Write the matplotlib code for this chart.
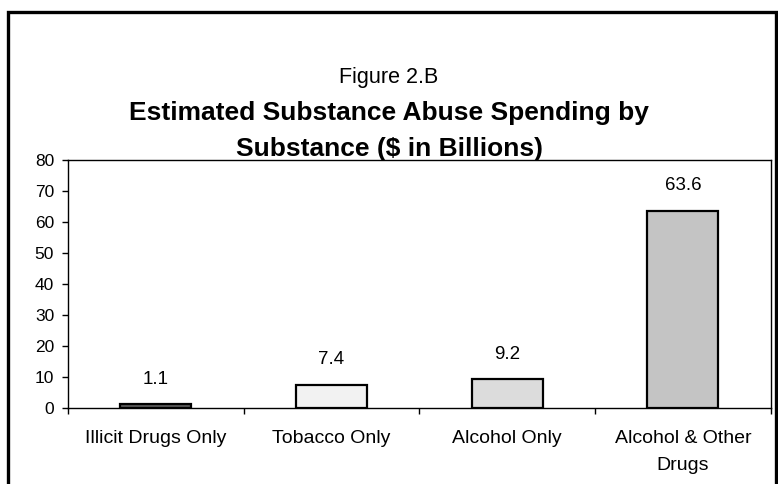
import matplotlib
matplotlib.use("Agg")
import matplotlib.pyplot as plt
from matplotlib.patches import Rectangle
import numpy as np

categories = ["Illicit Drugs Only", "Tobacco Only", "Alcohol Only", "Alcohol & Other\nDrugs"]
values = [1.1, 7.4, 9.2, 63.6]
value_labels = ["1.1", "7.4", "9.2", "63.6"]
bar_colors = ["#5a5a5a", "#f2f2f2", "#dcdcdc", "#c4c4c4"]
yticks = [0, 10, 20, 30, 40, 50, 60, 70, 80]

plt.rcParams['font.family'] = ['Liberation Sans', 'DejaVu Sans']

fig = plt.figure(figsize=(7.78, 4.84), dpi=100)
ax = fig.add_axes([68/778, 1-407.7/484, (770.7-68)/778, (407.7-160)/484])

x = np.arange(len(categories))
ax.bar(x, values, width=0.405, color=bar_colors, edgecolor="black", linewidth=1.6, zorder=3)
for xi, v, lab in zip(x, values, value_labels):
    ax.annotate(lab, (xi, v), xytext=(0, 12), textcoords="offset points",
                ha="center", va="bottom", fontsize=13.5)

ax.set_xlim(-0.5, len(categories) - 0.5)
ax.set_ylim(0, 80)
ax.set_yticks(yticks)
ax.set_yticklabels([str(t) for t in yticks], fontsize=12.5)
ax.set_xticks(x)
ax.set_xticklabels(categories, fontsize=14, linespacing=1.75)
ax.tick_params(axis="x", which="major", length=0, pad=16)
ax.set_xticks(np.arange(-0.5, len(categories) + 0.5, 1.0), minor=True)
ax.tick_params(axis="x", which="minor", length=4, width=1, direction="out")
ax.tick_params(axis="y", length=4, width=1, direction="out", pad=6)
for s in ax.spines.values():
    s.set_linewidth(1.0)
    s.set_color("black")

fig.text(0.5, 1-78/484, "Figure 2.B", ha="center", va="center", fontsize=15.5)
fig.text(0.5, 1-113/484, "Estimated Substance Abuse Spending by", ha="center", va="center",
         fontsize=19, fontweight="bold")
fig.text(0.5, 1-149/484, "Substance ($ in Billions)", ha="center", va="center",
         fontsize=19, fontweight="bold")

fig.patches.append(Rectangle((8/778, -0.05), (776-8)/778, 1.05 - 12/484, transform=fig.transFigure,
                             fill=False, edgecolor="black", linewidth=2.4))

fig.savefig("out.png", dpi=100)
